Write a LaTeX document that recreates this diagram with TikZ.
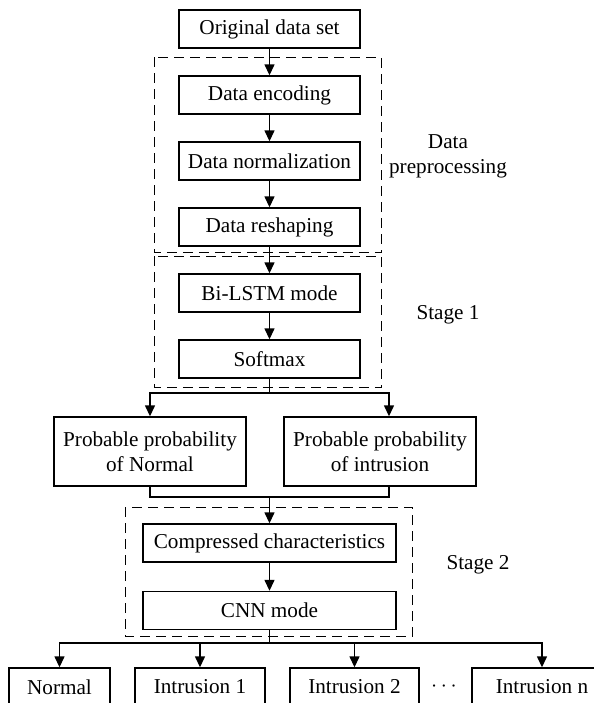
\documentclass[tikz,border=0pt]{standalone}
\usepackage{fontspec}
\setmainfont{Liberation Serif}
\usetikzlibrary{positioning,arrows.meta}

\begin{document}
\begin{tikzpicture}[auto,node distance=33pt,
        line width=0.7pt,>={Triangle[length=5.5pt,width=5pt]},
        font=\fontsize{10.6}{12.5}\selectfont,
        proc node/.style={rectangle,draw,minimum width=90.5pt,minimum height=19pt,inner sep=0pt},
        prob node/.style={rectangle,draw,align=center,minimum width=96pt,minimum height=34.5pt,inner sep=0pt},
        out node/.style={rectangle,draw,minimum height=19pt,inner sep=0pt},
        group box/.style={draw,dash pattern=on 5pt off 3pt}]

    \useasboundingbox (0,0) rectangle (297pt,-351.5pt);
    \clip (0,0) rectangle (297pt,-351.5pt);

    \node[proc node] (orig) at (134.75pt,-14.5pt) {Original data set};
    \node[proc node] (enc)  [below of=orig] {Data encoding};
    \node[proc node] (norm) [below of=enc]  {Data normalization};
    \node[proc node] (resh) [below of=norm] {Data reshaping};
    \node[proc node] (lstm) [below of=resh] {Bi-LSTM mode};
    \node[proc node] (soft) [below of=lstm] {Softmax};

    \node[prob node] (pnorm) at (75pt,-225.75pt)  {Probable probability\\of Normal};
    \node[prob node] (pintr) at (190pt,-225.75pt) {Probable probability\\of intrusion};

    \node[proc node,minimum width=126.5pt] (comp) at (134.75pt,-271.5pt) {Compressed characteristics};
    \node[proc node,minimum width=126.5pt] (cnn) [below of=comp,node distance=33.75pt] {CNN mode};

    \node[out node,minimum width=50.5pt] (onorm) at (29.75pt,-343.5pt) {Normal};
    \node[out node,minimum width=65pt]   (oint1) at (100pt,-343.5pt)   {Intrusion 1};
    \node[out node,minimum width=64.5pt] (oint2) at (177.25pt,-343.5pt) {Intrusion 2};
    \node (dots) at (222pt,-343.5pt) {$\cdots$};
    \node[out node,minimum width=70pt]   (ointn) at (271pt,-343.5pt)   {Intrusion n};

    % dashed groups and their labels
    \draw[group box] ([shift={(-12pt,9pt)}]enc.north west) rectangle ([shift={(10.5pt,-3pt)}]resh.south east);
    \draw[group box] ([shift={(-12pt,8.5pt)}]lstm.north west) rectangle ([shift={(10.5pt,-4.5pt)}]soft.south east);
    \draw[group box] ([shift={(-8.5pt,8pt)}]comp.north west) rectangle ([shift={(8pt,-3pt)}]cnn.south east);

    \node[align=center] (pre) at (224pt,-78pt) {Data\\preprocessing};
    \node (st1) at (224pt,-157.5pt) {Stage 1};
    \node (st2) at (239pt,-282.5pt) {Stage 2};

    \foreach \a/\b in {orig/enc,enc/norm,norm/resh,resh/lstm,lstm/soft,comp/cnn}
        \draw[->] (\a) -- (\b);

    \coordinate (sj) at (134.75pt,-196.5pt);
    \draw (soft) -- (sj);
    \draw[->] (sj) -| (pnorm);
    \draw[->] (sj) -| ([xshift=4.5pt]pintr.north);

    \coordinate (mj) at (134.75pt,-248.5pt);
    \draw (pnorm) |- (mj);
    \draw ([xshift=4.5pt]pintr.south) |- (mj);
    \draw[->] (mj) -- (comp);

    \coordinate (cj) at (134.75pt,-321.5pt);
    \draw (cnn) -- (cj);
    \foreach \t in {onorm,oint1,oint2,ointn}
        \draw[->] (cj) -| (\t);
\end{tikzpicture}
\end{document}
